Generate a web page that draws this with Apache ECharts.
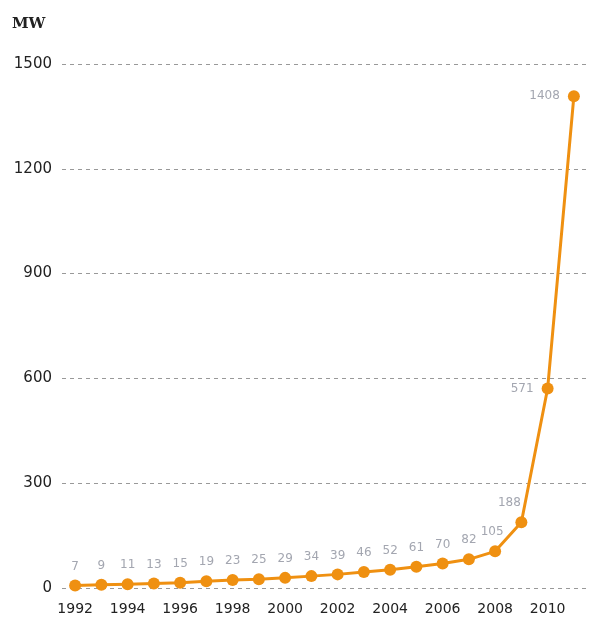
<!DOCTYPE html>
<html>
<head>
<meta charset="utf-8">
<script src="https://cdn.jsdelivr.net/npm/echarts@6/dist/echarts.min.js"></script>
<style>
  html, body { margin: 0; padding: 0; background: #fff; }
  #chart { width: 590px; height: 619px; }
</style>
</head>
<body>
<div id="chart"></div>
<script>
// 年份与装机容量 (MW)
const years = ['1992', '1993', '1994', '1995', '1996', '1997', '1998', '1999', '2000', '2001',
  '2002', '2003', '2004', '2005', '2006', '2007', '2008', '2009', '2010', '2011'];
const capacity = [7, 9, 11, 13, 15, 19, 23, 25, 29, 34, 39, 46, 52, 61, 70, 82, 105, 188, 571, 1408];
const yTicks = [0, 300, 600, 900, 1200, 1500];
const unitLabel = 'MW';

const chart = echarts.init(document.getElementById('chart'));

// 最后几个点的标签位置单独调整
const seriesData = capacity.map((v, i) => {
  const n = capacity.length;
  if (i >= n - 2) {
    return { value: v, label: { position: 'left', distance: 8 } };
  }
  if (i === n - 3) {
    return { value: v, label: { position: 'top', offset: [-12, 0] } };
  }
  if (i === n - 4) {
    return { value: v, label: { position: 'top', offset: [-3, 0] } };
  }
  return v;
});

const option = {
  animation: false,
  graphic: [{
    type: 'text',
    left: 12,
    top: 17,
    style: {
      text: unitLabel,
      font: 'bold 15px "DejaVu Serif"',
      fill: '#222'
    }
  }],
  grid: { left: 62, right: 3, top: 64, bottom: 31 },
  xAxis: {
    type: 'category',
    data: years,
    boundaryGap: true,
    axisLine: { show: false },
    axisTick: { show: false },
    axisLabel: {
      interval: 1,
      color: '#222',
      fontSize: 14,
      fontFamily: 'DejaVu Sans',
      margin: 14
    }
  },
  yAxis: {
    type: 'value',
    min: yTicks[0],
    max: yTicks[yTicks.length - 1],
    interval: 300,
    axisLine: { show: false },
    axisTick: { show: false },
    axisLabel: {
      color: '#222',
      fontSize: 15,
      fontFamily: 'DejaVu Sans',
      margin: 10,
      formatter: (v) => String(v)
    },
    splitLine: {
      lineStyle: { color: '#999', type: [4, 4], width: 1 }
    }
  },
  series: [{
    type: 'line',
    data: seriesData,
    symbol: 'circle',
    symbolSize: 12,
    lineStyle: { color: '#ef9011', width: 3 },
    itemStyle: { color: '#ef9011' },
    label: {
      show: true,
      position: 'top',
      distance: 7,
      color: '#a3a6b0',
      fontSize: 12,
      fontFamily: 'DejaVu Sans'
    }
  }]
};

chart.setOption(option);
</script>
</body>
</html>
